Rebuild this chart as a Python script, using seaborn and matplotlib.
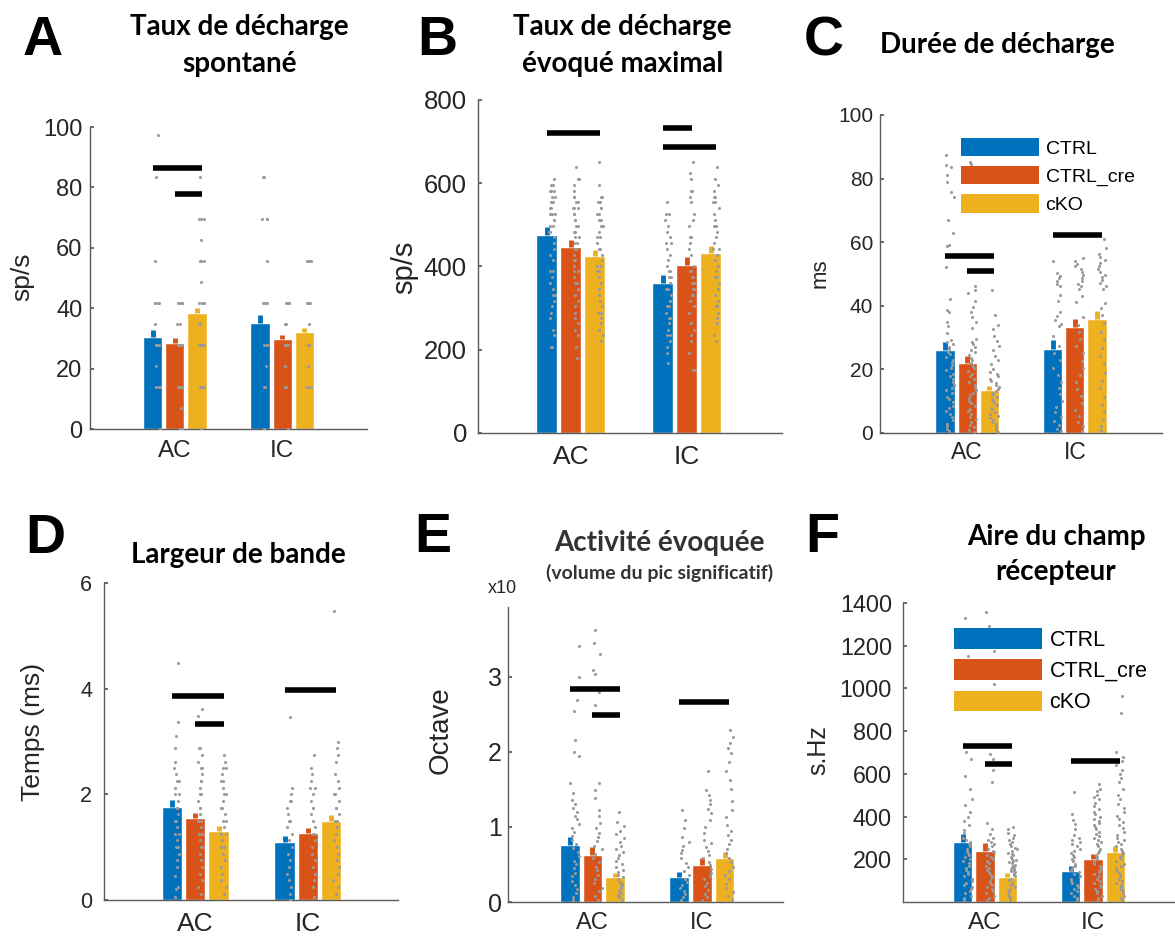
import numpy as np
import pandas as pd
import seaborn as sns
import matplotlib.pyplot as plt
from matplotlib.patches import Patch

regions = ["AC", "IC"]
groups = ["CTRL", "CTRL_cre", "cKO"]
palette = ["#0072BD", "#D95319", "#EDB120"]

# A - spontaneous firing rate (sp/s); rows = AC, IC ; cols = CTRL, CTRL_cre, cKO
a_mean = [[30.6, 28.6, 38.5], [35.2, 29.7, 32.2]]
a_sem = [[2.2, 1.6, 1.5], [2.5, 1.4, 1.4]]
a_pts_ac = [[97.2, 83.3, 55.6, 41.7, 41.7, 41.7, 41.7, 34.7, 27.8, 27.8, 27.8, 27.8, 20.8, 13.9, 13.9,
             13.9, 13.9, 0, 0],
            [41.7, 41.7, 41.7, 41.7, 34.7, 34.7, 27.8, 27.8, 27.8, 27.8, 13.9, 13.9, 13.9, 13.9, 6.9, 0, 0],
            [83.3, 69.4, 69.4, 69.4, 62.5, 55.6, 55.6, 55.6, 48.6, 41.7, 41.7, 41.7, 41.7, 34.7, 34.7,
             34.7, 27.8, 27.8, 27.8, 27.8, 13.9, 13.9, 13.9, 0]]
a_pts_ic = [[83.3, 83.3, 69.4, 69.4, 69.4, 55.6, 41.7, 41.7, 41.7, 41.7, 27.8, 27.8, 27.8, 27.8, 20.8,
             13.9, 13.9, 13.9, 0],
            [41.7, 41.7, 41.7, 41.7, 34.7, 34.7, 27.8, 27.8, 27.8, 27.8, 20.8, 13.9, 13.9, 13.9, 0],
            [55.6, 55.6, 55.6, 41.7, 41.7, 41.7, 41.7, 34.7, 27.8, 27.8, 27.8, 27.8, 20.8, 13.9, 13.9,
             13.9]]
a_sig = [(0, 0, 2, 86.5), (0, 1, 2, 77.8)]

# B - maximal evoked firing rate (sp/s)
b_mean = [[476, 448, 425], [361, 404, 433]]
b_sem = [[18, 16, 15], [19, 18, 16]]
b_pts_ac = [[610, 596, 596, 582, 582, 582, 568, 568, 554, 554, 554, 540, 540, 526, 526, 526, 512, 512,
             498, 498, 484, 484, 470, 456, 442, 428, 416, 388, 388, 374, 360, 345, 332, 332, 318, 304,
             289, 276, 248, 235, 207, 207],
            [638, 610, 610, 596, 582, 568, 568, 554, 554, 540, 540, 540, 526, 526, 512, 512, 498, 498,
             484, 484, 470, 470, 456, 456, 442, 442, 428, 416, 416, 402, 388, 388, 374, 360, 360, 345,
             332, 318, 304, 289, 276, 264, 248, 235, 207, 179],
            [651, 596, 568, 568, 554, 554, 540, 540, 526, 526, 512, 512, 498, 498, 484, 470, 470, 456,
             442, 442, 428, 416, 402, 402, 388, 388, 374, 360, 345, 345, 332, 318, 304, 289, 289, 276,
             264, 248, 235, 220]]
b_pts_ic = [[554, 526, 526, 512, 498, 484, 470, 456, 456, 442, 428, 416, 402, 388, 388, 374, 374, 360,
             360, 345, 345, 332, 318, 318, 304, 304, 289, 276, 276, 264, 248, 235, 235, 220, 207, 193,
             167],
            [651, 624, 610, 582, 582, 568, 554, 526, 512, 498, 470, 470, 456, 442, 428, 402, 388, 388,
             374, 374, 360, 360, 345, 345, 332, 332, 318, 304, 289, 264, 264, 248, 235, 220, 193, 151,
             151],
            [638, 610, 596, 582, 568, 568, 554, 554, 540, 526, 512, 498, 498, 484, 470, 456, 442, 442,
             428, 416, 402, 388, 374, 374, 360, 345, 345, 332, 318, 304, 304, 289, 276, 264, 235, 220]]
b_sig = [(0, 0, 2, 720), (1, 0, 1, 733), (1, 0, 2, 688)]

# C - firing duration (ms)
c_mean = [[26.1, 22.1, 13.5], [26.4, 33.4, 35.8]]
c_sem = [[2.6, 2.1, 1.3], [2.8, 2.6, 2.7]]
c_pts_ac = [[87.4, 84.3, 83.5, 81.1, 79.0, 75.9, 74.3, 67.0, 62.8, 59.1, 58.8, 52.3, 42.0, 38.7, 38.1,
             35.0, 33.5, 31.5, 29.4, 28.6, 27.9, 27.1, 26.4, 25.5, 24.8, 23.9, 23.1, 22.4, 21.3, 20.5,
             19.7, 18.6, 17.8, 17.0, 16.1, 15.2, 14.3, 13.5, 12.6, 11.4, 10.7, 9.8, 8.6, 7.9, 6.8, 5.9,
             4.9, 4.0, 2.9, 2.1, 1.2, 0.5],
            [85.2, 84.6, 82.7, 80.1, 46.2, 45.0, 44.0, 41.5, 39.5, 38.0, 36.5, 35.0, 33.0, 29.6, 28.7,
             27.9, 27.0, 26.2, 25.4, 24.5, 23.7, 22.8, 22.0, 21.1, 20.3, 19.5, 18.6, 17.8, 16.9, 16.1,
             15.2, 14.4, 13.6, 12.7, 11.9, 11.0, 10.2, 9.3, 8.5, 7.7, 6.8, 6.0, 5.1, 4.3, 3.4, 2.6,
             1.8, 0.9, 0.4],
            [45.0, 37.0, 34.0, 32.8, 30.6, 29.0, 27.4, 26.0, 24.3, 22.9, 21.6, 20.2, 19.3, 18.6, 17.9,
             17.1, 16.4, 15.8, 15.1, 14.5, 13.8, 13.2, 12.6, 11.9, 11.3, 10.6, 10.0, 9.3, 8.7, 8.0,
             7.4, 6.7, 6.1, 5.4, 4.8, 4.1, 3.5, 2.8, 2.2, 1.5, 0.9, 0.4]]
c_pts_ic = [[54.0, 50.3, 49.5, 48.6, 47.8, 46.9, 46.1, 43.5, 41.5, 38.0, 36.9, 35.6, 34.4, 33.6, 30.6,
             27.5, 25.1, 22.8, 20.4, 18.3, 16.0, 14.1, 12.2, 10.0, 8.1, 6.5, 5.0, 3.7, 2.4, 1.3, 0.5],
            [55.1, 54.2, 53.3, 52.4, 51.5, 50.6, 49.7, 48.8, 47.9, 47.0, 46.1, 45.2, 43.0, 41.2, 36.5,
             34.0, 31.8, 29.6, 27.3, 25.0, 22.6, 20.5, 18.1, 16.0, 13.7, 11.5, 9.4, 7.2, 5.3, 3.6,
             2.1, 0.7],
            [61.0, 58.3, 56.2, 55.3, 54.4, 53.5, 52.6, 51.6, 50.7, 49.8, 48.9, 48.0, 47.1, 46.2, 45.3,
             41.0, 39.2, 37.1, 34.5, 31.8, 29.2, 26.7, 24.1, 21.6, 19.0, 16.5, 14.0, 11.4, 8.9, 6.5,
             4.2, 2.3, 0.8]]
c_sig = [(0, 0, 2, 55.8), (0, 1, 2, 51.0), (1, 0, 2, 62.3)]

# D - bandwidth
d_mean = [[1.76, 1.55, 1.31], [1.09, 1.26, 1.50]]
d_sem = [[0.13, 0.10, 0.10], [0.13, 0.10, 0.11]]
d_pts_ac = [[4.48, 3.36, 3.11, 2.87, 2.62, 2.50, 2.38, 2.25, 2.25, 2.12, 2.00, 2.00, 1.88, 1.75, 1.75,
             1.63, 1.50, 1.50, 1.38, 1.25, 1.25, 1.13, 1.00, 1.00, 0.88, 0.75, 0.62, 0.45, 0.25, 0.20,
             0.05],
            [3.61, 3.49, 2.87, 2.87, 2.75, 2.62, 2.50, 2.50, 2.38, 2.25, 2.25, 2.12, 2.00, 2.00, 1.88,
             1.75, 1.75, 1.63, 1.50, 1.50, 1.38, 1.25, 1.25, 1.13, 1.00, 1.00, 0.88, 0.75, 0.62, 0.50,
             0.38, 0.25, 0.12],
            [2.75, 2.62, 2.50, 2.50, 2.38, 2.25, 2.25, 2.12, 2.00, 2.00, 1.88, 1.75, 1.75, 1.63, 1.50,
             1.50, 1.38, 1.25, 1.25, 1.13, 1.00, 1.00, 0.88, 0.75, 0.62, 0.50, 0.38, 0.25, 0.12]]
d_pts_ic = [[3.47, 2.12, 2.00, 1.88, 1.88, 1.75, 1.63, 1.50, 1.50, 1.38, 1.25, 1.13, 1.00, 0.88, 0.75,
             0.62, 0.50, 0.38, 0.25, 0.12, 0.0],
            [2.75, 2.50, 2.38, 2.25, 2.12, 2.12, 2.00, 1.88, 1.75, 1.75, 1.63, 1.50, 1.38, 1.25, 1.25,
             1.13, 1.00, 0.88, 0.75, 0.62, 0.50, 0.38, 0.25, 0.05],
            [5.47, 2.99, 2.87, 2.75, 2.62, 2.38, 2.25, 2.12, 2.00, 2.00, 1.88, 1.75, 1.75, 1.63, 1.50,
             1.50, 1.38, 1.25, 1.13, 1.00, 0.88, 0.75, 0.62, 0.50, 0.38, 0.25, 0.12]]
d_sig = [(0, 0, 2, 3.86), (0, 1, 2, 3.33), (1, 0, 2, 3.97)]

# E - evoked activity (significant peak volume)
e_mean = [[0.76, 0.63, 0.33], [0.33, 0.49, 0.58]]
e_sem = [[0.10, 0.10, 0.06], [0.07, 0.09, 0.09]]
e_pts_ac = [[3.41, 3.00, 2.85, 2.69, 2.55, 2.16, 2.00, 1.94, 1.58, 1.45, 1.36, 1.31, 1.25, 1.20, 1.14,
             1.10, 1.04, 0.99, 0.93, 0.88, 0.83, 0.77, 0.72, 0.66, 0.61, 0.55, 0.50, 0.45, 0.39, 0.34,
             0.28, 0.23, 0.17, 0.12, 0.06, 0.03],
            [3.63, 3.45, 3.30, 3.09, 3.04, 2.80, 2.62, 2.52, 1.58, 1.49, 1.38, 1.23, 1.15, 1.05, 0.98,
             0.92, 0.86, 0.81, 0.75, 0.70, 0.64, 0.58, 0.53, 0.47, 0.42, 0.36, 0.31, 0.25, 0.19, 0.14,
             0.08, 0.03],
            [1.20, 1.07, 1.01, 0.95, 0.90, 0.85, 0.80, 0.75, 0.71, 0.66, 0.62, 0.58, 0.54, 0.50, 0.47,
             0.43, 0.40, 0.36, 0.33, 0.30, 0.27, 0.24, 0.21, 0.18, 0.15, 0.12, 0.09, 0.06, 0.03]]
e_pts_ic = [[1.23, 1.09, 0.98, 0.87, 0.80, 0.74, 0.69, 0.65, 0.58, 0.52, 0.46, 0.41, 0.36, 0.31, 0.27,
             0.22, 0.18, 0.14, 0.10, 0.06, 0.03],
            [1.74, 1.49, 1.43, 1.36, 1.30, 1.24, 1.18, 1.09, 1.00, 0.92, 0.83, 0.78, 0.73, 0.68, 0.63,
             0.58, 0.53, 0.49, 0.44, 0.39, 0.35, 0.30, 0.25, 0.21, 0.16, 0.11, 0.07, 0.03],
            [2.29, 2.20, 2.12, 2.05, 1.98, 1.86, 1.74, 1.62, 1.50, 1.34, 1.23, 1.13, 1.03, 0.95, 0.89,
             0.83, 0.77, 0.71, 0.65, 0.59, 0.53, 0.47, 0.41, 0.36, 0.30, 0.24, 0.19, 0.13, 0.08, 0.03]]
e_sig = [(0, 0, 2, 2.84), (0, 1, 2, 2.49), (1, 0, 2, 2.66)]

# F - receptive field area (s.Hz)
f_mean = [[282, 239, 119], [143, 201, 236]]
f_sem = [[36, 35, 19], [26, 22, 28]]
f_pts_ac = [[1329, 1245, 1150, 1110, 701, 670, 592, 530, 484, 452, 421, 398, 381, 362, 338, 321, 302,
             290, 281, 270, 262, 250, 240, 231, 222, 210, 201, 190, 183, 170, 160, 150, 142, 130,
             121, 110, 98, 88, 81, 70, 62, 50, 41, 30, 20, 10],
            [1360, 1290, 1174, 1088, 1019, 693, 668, 616, 561, 368, 342, 318, 301, 290, 283, 271, 262,
             250, 241, 232, 222, 211, 200, 190, 181, 170, 160, 150, 141, 132, 122, 111, 100, 90, 80,
             70, 61, 50, 40, 30, 20, 10],
            [352, 340, 321, 312, 300, 290, 282, 271, 262, 255, 250, 241, 231, 225, 220, 210, 201, 195,
             190, 185, 181, 175, 170, 165, 160, 155, 150, 145, 141, 135, 130, 125, 120, 110, 101, 90,
             80, 70, 60, 50, 40, 30, 20, 10]]
f_pts_ic = [[514, 414, 383, 367, 340, 312, 300, 290, 280, 270, 260, 250, 240, 231, 220, 210, 200, 190,
             180, 170, 160, 151, 140, 130, 120, 110, 100, 90, 80, 70, 60, 50, 40, 30, 20, 10],
            [552, 530, 520, 500, 490, 480, 465, 451, 435, 420, 410, 400, 390, 380, 370, 361, 350, 340,
             330, 320, 310, 300, 290, 281, 270, 260, 250, 240, 230, 221, 210, 200, 190, 180, 170, 160,
             150, 141, 130, 120, 110, 100, 90, 80, 70, 60, 50, 40, 30, 20, 10],
            [964, 887, 701, 680, 660, 640, 620, 600, 580, 561, 530, 500, 480, 460, 440, 420, 405, 390,
             375, 361, 345, 330, 315, 300, 290, 280, 270, 260, 250, 240, 230, 221, 210, 200, 190, 180,
             170, 160, 150, 140, 130, 120, 110, 100, 90, 80, 70, 60, 50, 40, 30, 20, 10]]
f_sig = [(0, 0, 2, 732), (0, 1, 2, 647), (1, 0, 2, 662)]

W, H = 1175, 938
TXT = "#262626"

sns.set_theme(style="white")
plt.rcParams["font.family"] = ["Liberation Sans", "DejaVu Sans"]

fig = plt.figure(figsize=(W / 100, H / 100), dpi=100)


def px_axes(l, t, r, b):
    return fig.add_axes([l / W, 1 - b / H, (r - l) / W, (b - t) / H])


def panel(ax, mean, sem, pts_ac, pts_ic, sig, xlim, ylim, yticks, ysize, xsize, ypad, xpad,
          jit=0.12):
    bars = pd.DataFrame({"pos": np.repeat([0, 1], 3), "group": groups * 2, "val": np.ravel(mean)})
    sns.barplot(data=bars, x="pos", y="val", hue="group", hue_order=groups, palette=palette,
                native_scale=True, orient="x", width=0.62, gap=0.13, saturation=1,
                errorbar=None, legend=False, ax=ax)
    centers = [[0.0] * 3, [0.0] * 3]
    for g, cont in enumerate(ax.containers):
        for p in cont:
            cx = p.get_x() + p.get_width() / 2
            centers[int(round(cx))][g] = cx

    # sem "bump" on top of each bar
    for r in range(2):
        for g in range(3):
            ax.errorbar(centers[r][g], mean[r][g], yerr=[[0], [sem[r][g]]], fmt="none",
                        ecolor=palette[g], elinewidth=3.5, capsize=0, zorder=2)

    rows = []
    for r, pts in enumerate([pts_ac, pts_ic]):
        for g in range(3):
            for v in pts[g]:
                rows.append((centers[r][g] + 0.045, v))
    dots = pd.DataFrame(rows, columns=["x", "val"])
    sns.stripplot(data=dots, x="x", y="val", native_scale=True, orient="x", jitter=jit,
                  color="#9a9a9a", size=2.2, linewidth=0, ax=ax, zorder=3)

    for r, g0, g1, y in sig:
        ax.plot([centers[r][g0], centers[r][g1] + 0.045], [y, y], color="black", lw=4,
                solid_capstyle="butt", zorder=4)

    ax.set_xlim(*xlim)
    ax.set_ylim(*ylim)
    ax.set_yticks(yticks)
    ax.set_xticks([0, 1], regions)
    ax.set_xlabel("")
    ax.set_ylabel("")
    sns.despine(ax=ax)
    for s in ("left", "bottom"):
        ax.spines[s].set_color("#5a5a5a")
        ax.spines[s].set_linewidth(1.0)
    ax.tick_params(axis="y", direction="in", length=3, color="#5a5a5a", labelsize=ysize,
                   pad=ypad, labelcolor=TXT, left=True)
    ax.tick_params(axis="x", length=0, labelsize=xsize, pad=xpad, labelcolor=TXT)


def add_legend(ax, anchor, fs, hl, hh, ls):
    handles = [Patch(facecolor=c, edgecolor="none") for c in palette]
    ax.legend(handles, groups, loc="upper left", bbox_to_anchor=anchor, frameon=False,
              fontsize=fs, handlelength=hl, handleheight=hh, labelspacing=ls,
              handletextpad=0.35, borderpad=0, borderaxespad=0, labelcolor="black")


axA = px_axes(90, 127, 367, 429)
panel(axA, a_mean, a_sem, a_pts_ac, a_pts_ic, a_sig, (-0.79, 1.79), (0, 100), range(0, 101, 20),
      17, 17.5, 5.5, 8)
axB = px_axes(478, 100, 782, 433)
panel(axB, b_mean, b_sem, b_pts_ac, b_pts_ic, b_sig, (-0.80, 1.82), (0, 800), range(0, 801, 200),
      18.5, 19, 8, 8.5)
axC = px_axes(880, 115, 1162, 433)
panel(axC, c_mean, c_sem, c_pts_ac, c_pts_ic, c_sig, (-0.81, 1.81), (0, 100), range(0, 101, 20),
      15, 16.5, 5, 5.5, jit=0.2)
add_legend(axC, (0.287, 0.928), 14, 4.0, 1.08, 0.43)
axD = px_axes(104, 583, 398, 900)
panel(axD, d_mean, d_sem, d_pts_ac, d_pts_ic, d_sig, (-0.81, 1.80), (0, 6), [0, 2, 4, 6],
      15.5, 19, 8.5, 8.5)
axE = px_axes(508, 607, 783, 902)
panel(axE, e_mean, e_sem, e_pts_ac, e_pts_ic, e_sig, (-0.77, 1.74), (0, 3.93), [0, 1, 2, 3],
      18, 17, 4.5, 7.5, jit=0.2)
axF = px_axes(903, 603, 1174, 902)
panel(axF, f_mean, f_sem, f_pts_ac, f_pts_ic, f_sig, (-0.76, 1.75), (0, 1400),
      range(200, 1401, 200), 16.8, 17.5, 8, 7.5, jit=0.2)
add_legend(axF, (0.1875, 0.916), 15.5, 4.1, 1.1, 0.40)


def ftext(x, y, s, **kw):
    fig.text(x / W, 1 - y / H, s, **kw)


# panel letters
for letter, x, y in [("A", 43, 55), ("B", 437, 55), ("C", 824, 55),
                     ("D", 45, 553), ("E", 433, 552), ("F", 822, 552)]:
    ftext(x, y, letter, fontsize=40, fontweight="bold", ha="center", va="baseline",
          color="black", family="Liberation Sans")

# panel titles
title_kw = dict(fontsize=20, fontweight="bold", ha="center", va="baseline", color="black",
                family="Lato")
ftext(239, 35, "Taux de décharge", **title_kw)
ftext(240, 72, "spontané", **title_kw)
ftext(622, 35, "Taux de décharge", **title_kw)
ftext(623, 72, "évoqué maximal", **title_kw)
ftext(997, 53, "Durée de décharge", **title_kw)
ftext(238, 563, "Largeur de bande", **title_kw)
ftext(659, 551, "Activité évoquée", **{**title_kw, "color": "#333333"})
ftext(660, 579, "(volume du pic significatif)", fontsize=14, fontweight="bold", ha="center",
      va="baseline", color="#333333", family="Lato")
ftext(1056, 545, "Aire du champ", **title_kw)
ftext(1056, 580, "récepteur", **title_kw)

# y labels
ylab_kw = dict(rotation=90, ha="center", va="center", color=TXT)
ftext(22, 277, "sp/s", fontsize=19, **ylab_kw)
ftext(404, 267, "sp/s", fontsize=21, **ylab_kw)
ftext(820, 273, "ms", fontsize=16, **ylab_kw)
ftext(33, 732, "Temps (ms)", fontsize=19, **ylab_kw)
ftext(441, 730, "Octave", fontsize=20, **ylab_kw)
ftext(818, 750, "s.Hz", fontsize=18, **ylab_kw)
ftext(488, 593, "x10", fontsize=13, ha="left", va="baseline", color=TXT)

fig.savefig("out.png", dpi=100)
